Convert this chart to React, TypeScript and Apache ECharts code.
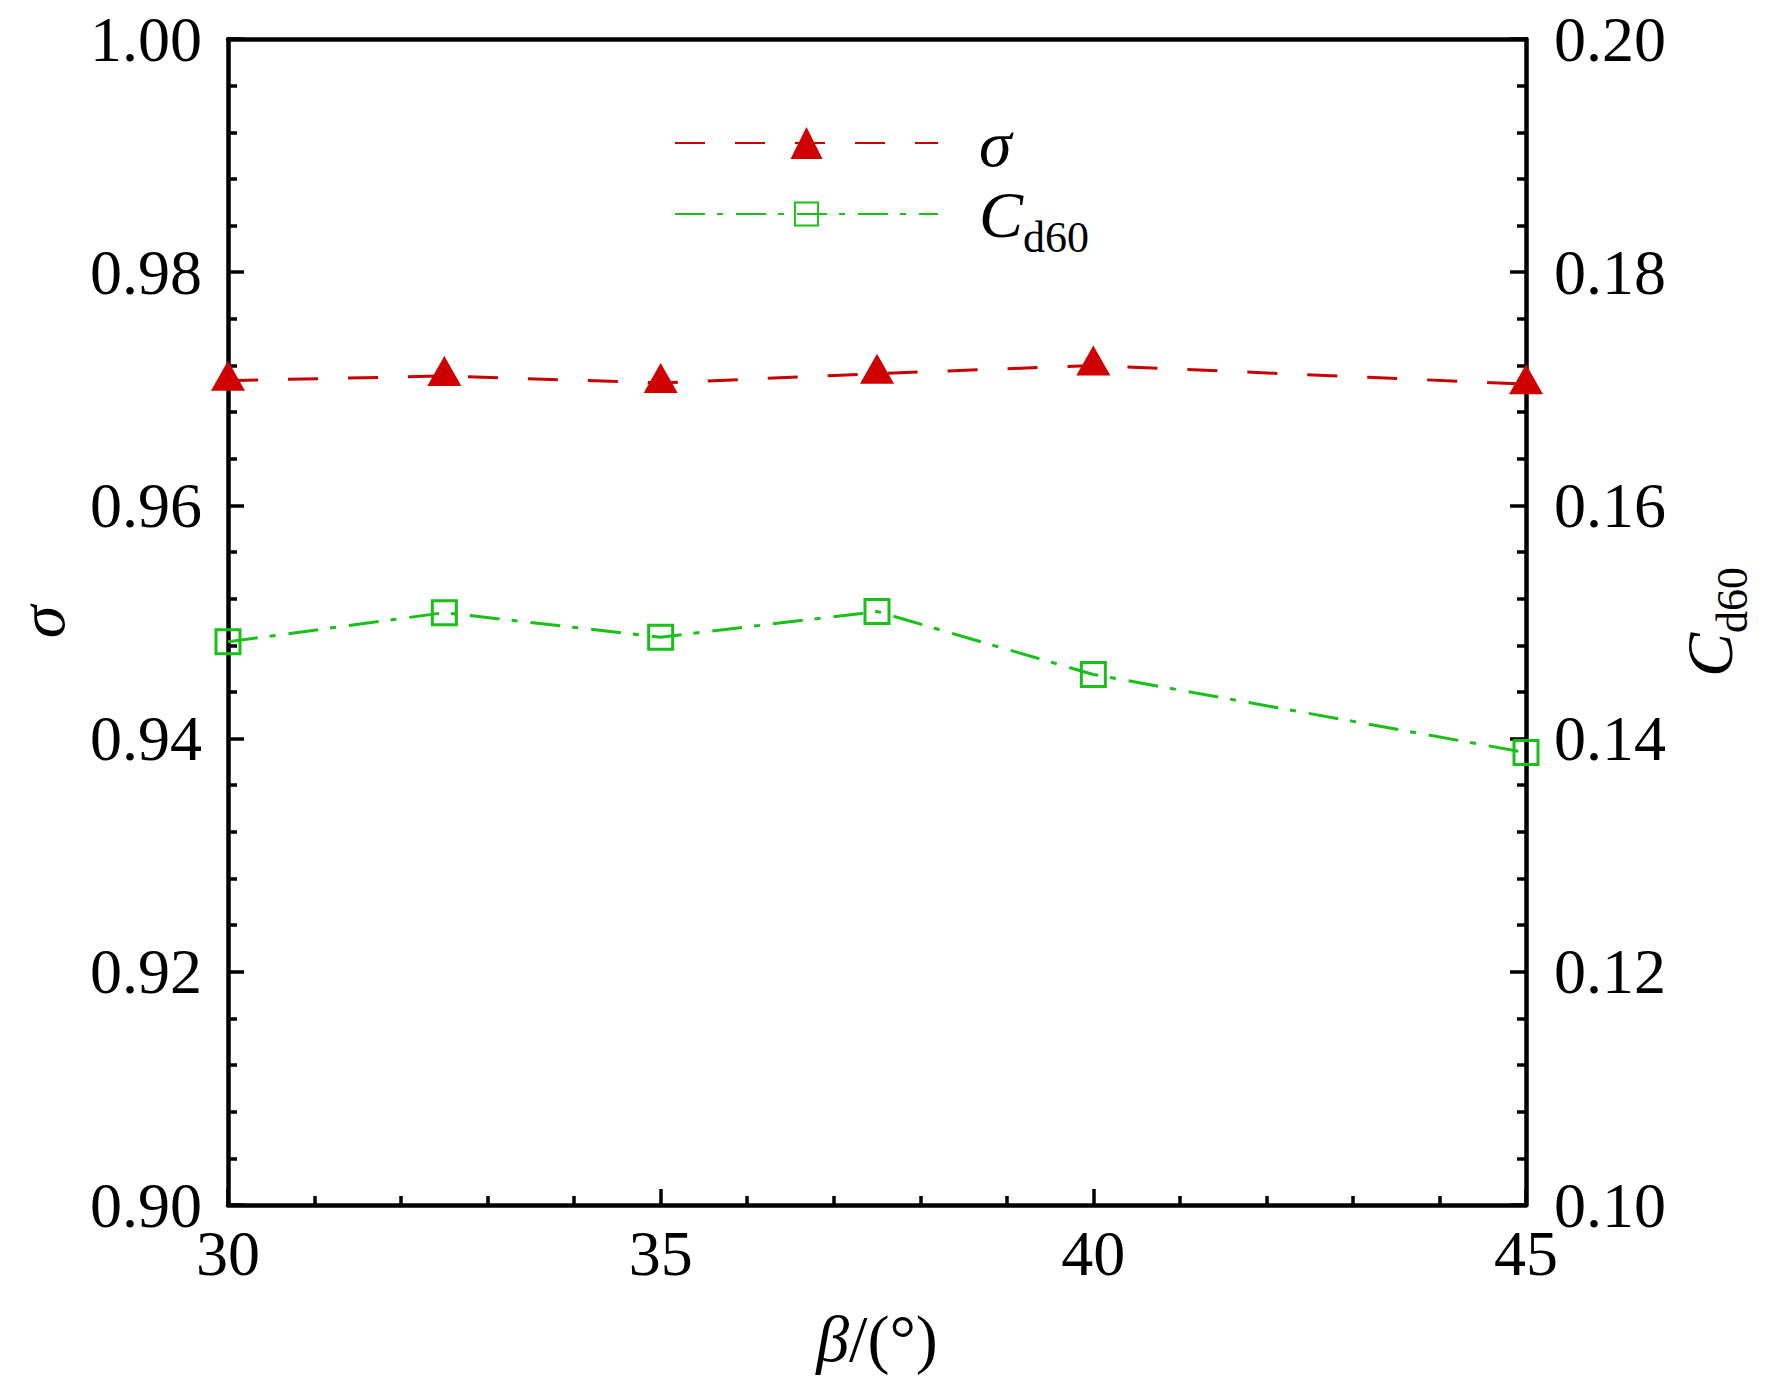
import React, { useEffect, useRef } from "react";
import * as echarts from "echarts";

const betaValues = [30, 32.5, 35, 37.5, 40, 45];
const sigmaValues = [0.9707, 0.9711, 0.9705, 0.9713, 0.972, 0.9704];
const cd60Values = [0.1483, 0.1508, 0.1487, 0.1509, 0.1455, 0.1388];

const xTicks = { min: 30, max: 45, interval: 5 };
const sigmaTicks = { min: 0.9, max: 1.0, interval: 0.02 };
const cd60Ticks = { min: 0.1, max: 0.2, interval: 0.02 };

const seriesNames = ["σ", "Cd60"];

const FONT = "'Liberation Serif', 'Times New Roman', serif";
const RED = "#C80000";
const RED_FILL = "#D00000";
const GREEN = "#18C018";

export default function App() {
  const ref = useRef<HTMLDivElement>(null);

  useEffect(() => {
    document.body.style.margin = "0";
    document.body.style.overflow = "hidden";
    const chart = echarts.init(ref.current!, undefined, { renderer: "svg" });

    const axisLine = { show: true, lineStyle: { color: "#000", width: 4.5 } };
    const axisTick = { show: true, inside: true, length: 16, lineStyle: { color: "#000", width: 3.5 } };
    const minorTick = { show: true, splitNumber: 5, length: 9, lineStyle: { color: "#000", width: 3.5 } };
    const labelBase = { color: "#000", fontFamily: FONT, fontSize: 64 };

    const sub = {
      C: { fontFamily: FONT, fontStyle: "italic", fontSize: 66, lineHeight: 66, color: "#000", verticalAlign: "bottom" },
      s: { fontFamily: FONT, fontSize: 44, lineHeight: 20, height: 20, color: "#000", verticalAlign: "bottom" },
      it: { fontFamily: FONT, fontStyle: "italic", fontSize: 66, lineHeight: 66, color: "#000" },
      n: { fontFamily: FONT, fontSize: 66, lineHeight: 66, color: "#000" },
    };

    const legendFormatter = (name: string) =>
      name === "Cd60" ? "{C|C}{s|d60}" : "{it|σ}";

    const option: any = {
      animation: false,
      backgroundColor: "#fff",
      grid: { left: 228, right: 246, top: 39, bottom: 169, containLabel: false },
      legend: [
        {
          data: [seriesNames[0]],
          left: 674,
          top: 110,
          padding: 0,
          itemWidth: 263,
          itemHeight: 40,
          selectedMode: false,
          formatter: legendFormatter,
          textStyle: { padding: [0, 0, 0, 36], rich: sub },
        },
        {
          data: [seriesNames[1]],
          left: 674,
          top: 181,
          padding: 0,
          itemWidth: 263,
          itemHeight: 29,
          selectedMode: false,
          formatter: legendFormatter,
          textStyle: { padding: [0, 0, 0, 36], rich: sub },
        },
      ],
      xAxis: [
        {
          type: "value",
          position: "bottom",
          min: xTicks.min,
          max: xTicks.max,
          interval: xTicks.interval,
          z: 3,
          axisLine,
          axisTick,
          minorTick,
          splitLine: { show: false },
          axisLabel: { ...labelBase, margin: 16 },
          name: "{it|β}{n|/(°)}",
          nameLocation: "middle",
          nameGap: 100,
          nameTextStyle: { rich: sub },
        },
        {
          type: "value",
          position: "top",
          min: xTicks.min,
          max: xTicks.max,
          z: 3,
          axisLine,
          axisTick: { show: false },
          axisLabel: { show: false },
          splitLine: { show: false },
        },
      ],
      yAxis: [
        {
          type: "value",
          position: "left",
          min: sigmaTicks.min,
          max: sigmaTicks.max,
          interval: sigmaTicks.interval,
          z: 3,
          axisLine,
          axisTick,
          minorTick,
          splitLine: { show: false },
          axisLabel: { ...labelBase, margin: 26, padding: [0, 0, 9, 0], formatter: (v: number) => v.toFixed(2) },
          name: "{it|σ}",
          nameLocation: "middle",
          nameRotate: 90,
          nameGap: 154,
          nameTextStyle: { rich: sub },
        },
        {
          type: "value",
          position: "right",
          min: cd60Ticks.min,
          max: cd60Ticks.max,
          interval: cd60Ticks.interval,
          z: 3,
          axisLine,
          axisTick,
          minorTick,
          splitLine: { show: false },
          axisLabel: { ...labelBase, margin: 28, padding: [0, 0, 9, 0], formatter: (v: number) => v.toFixed(2) },
          name: "{C|C}{s|d60}",
          nameLocation: "middle",
          nameRotate: 90,
          nameGap: 150,
          nameTextStyle: { rich: sub },
        },
      ],
      series: [
        {
          name: seriesNames[0],
          type: "line",
          xAxisIndex: 0,
          yAxisIndex: 0,
          data: betaValues.map((b, i) => [b, sigmaValues[i]]),
          symbol: "triangle",
          symbolSize: [34, 30],
          symbolOffset: [0, -5],
          lineStyle: { color: RED, width: 3, type: [30, 30] },
          itemStyle: { color: RED_FILL, borderWidth: 0 },
          clip: false,
        },
        {
          name: seriesNames[1],
          type: "line",
          xAxisIndex: 0,
          yAxisIndex: 1,
          data: betaValues.map((b, i) => [b, cd60Values[i]]),
          symbol: "rect",
          symbolSize: 24,
          lineStyle: { color: GREEN, width: 3, type: [30, 12, 6, 13] },
          itemStyle: { color: "transparent", borderColor: GREEN, borderWidth: 3 },
          clip: false,
        },
      ],
    };

    chart.setOption(option);
    return () => chart.dispose();
  }, []);

  return <div ref={ref} style={{ width: 1772, height: 1376 }} />;
}
